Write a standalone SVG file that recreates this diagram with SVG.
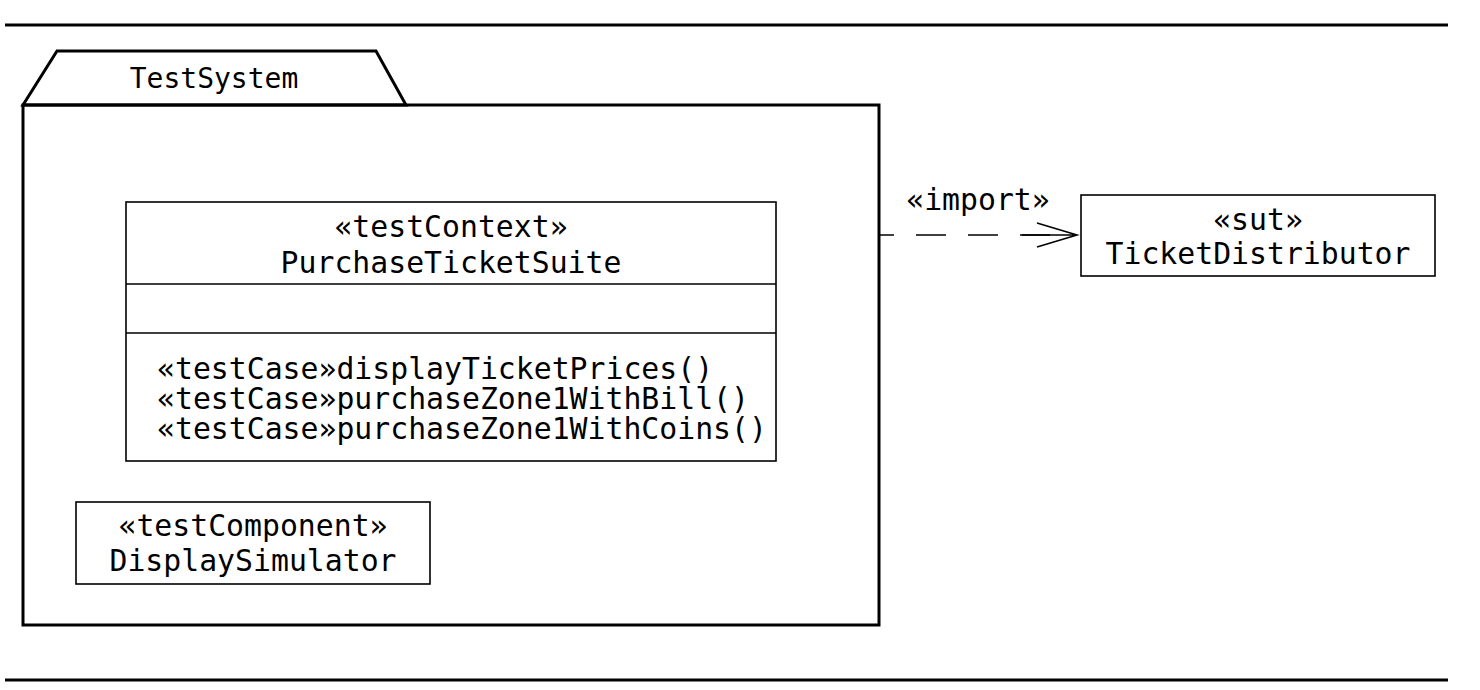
<svg xmlns="http://www.w3.org/2000/svg" width="1480" height="690" viewBox="0 0 1480 690">
<style>
text{font-family:"DejaVu Sans Mono","Liberation Mono",monospace;font-size:29.8px;fill:#000}
.c{text-anchor:middle}
.thick{fill:none;stroke:#000;stroke-width:3}
.thin{fill:#fff;stroke:#000;stroke-width:1.6}
.conn{fill:none;stroke:#000;stroke-width:1.6}
</style>
<rect width="1480" height="690" fill="#fff"/>
<line x1="5" y1="25" x2="1448" y2="25" class="thick"/>
<line x1="5" y1="680" x2="1448" y2="680" class="thick"/>
<g id="TestSystem">
<polygon points="23,105 57,51 376,51 406,105" class="thick" fill="#fff"/>
<rect x="23" y="105" width="856" height="520" class="thick"/>
<text x="214" y="88" class="c" style="font-size:28px">TestSystem</text>
</g>
<g id="PurchaseTicketSuite">
<rect x="126" y="202" width="650" height="259" class="thin"/>
<line x1="126" y1="284" x2="776" y2="284" class="conn"/>
<line x1="126" y1="333" x2="776" y2="333" class="conn"/>
<text x="451" y="237" class="c">«testContext»</text>
<text x="451" y="273" class="c">PurchaseTicketSuite</text>
<text x="157" y="379">«testCase»displayTicketPrices()<tspan x="157" dy="30">«testCase»purchaseZone1WithBill()</tspan><tspan x="157" dy="30">«testCase»purchaseZone1WithCoins()</tspan></text>
</g>
<g id="DisplaySimulator">
<rect x="76" y="502" width="354" height="82" class="thin"/>
<text x="253" y="536" class="c">«testComponent»</text>
<text x="253" y="571" class="c">DisplaySimulator</text>
</g>
<g id="TicketDistributor">
<rect x="1081" y="195" width="354" height="81" class="thin"/>
<text x="1258" y="230" class="c">«sut»</text>
<text x="1258" y="264" class="c">TicketDistributor</text>
</g>
<g id="connectors">
<line x1="880" y1="235" x2="1076" y2="235" class="conn" stroke-dasharray="30 22" stroke-dashoffset="16"/>
<line x1="1022" y1="235" x2="1076" y2="235" class="conn"/>
<polyline points="1037,223 1077,235 1037,247" class="conn"/>
<text x="978" y="210" class="c">«import»</text>
</g>
</svg>
